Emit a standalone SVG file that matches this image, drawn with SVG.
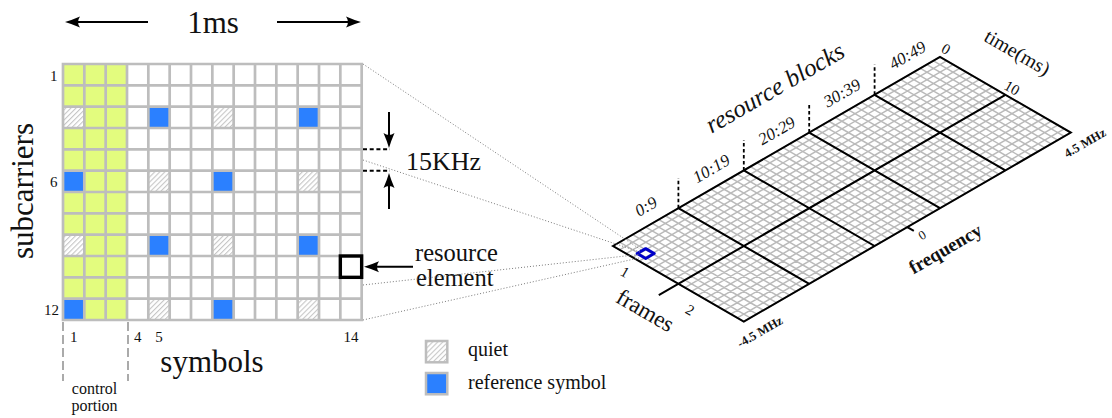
<svg xmlns="http://www.w3.org/2000/svg" width="1112" height="418" viewBox="0 0 1112 418" font-family="Liberation Serif, DejaVu Serif, serif">
  <style>
    text { font-family: "Liberation Serif", "DejaVu Serif", serif; fill: #111; }
    .it { font-style: italic; }
    .bf { font-weight: bold; }
    .mid { text-anchor: middle; }
    .end { text-anchor: end; }
    .gl { fill: none; stroke: #bdbdbd; stroke-width: 2.7; stroke-linecap: square; }
    .ctl { fill: #e3fc7e; }
    .ref { fill: #2b80ff; }
    .qt { fill: url(#hatch); }
    .fine { fill: none; stroke: #bababa; stroke-width: 1.5; vector-effect: non-scaling-stroke; }
    .bold { fill: none; stroke: #000; stroke-width: 2; vector-effect: non-scaling-stroke; }
    .dot { fill: none; stroke: #7a7a7a; stroke-width: 1; stroke-dasharray: 1 2; }
    .arr { fill: none; stroke: #000; stroke-width: 2; }
    .dash { fill: none; stroke: #000; stroke-width: 2; stroke-dasharray: 4 2.7; }
    .vdash { fill: none; stroke: #000; stroke-width: 1.8; stroke-dasharray: 3.5 2.5; }
    .cdash { fill: none; stroke: #aaa; stroke-width: 2; stroke-dasharray: 9 4; }
  </style>
  <defs>
    <pattern id="hatch" width="3.6" height="3.6" patternUnits="userSpaceOnUse" patternTransform="rotate(45)">
      <rect width="3.6" height="3.6" fill="#fff"/>
      <rect width="1.1" height="3.6" fill="#c6c6c6"/>
    </pattern>
    <!-- arrowhead, tip at origin pointing along +x -->
    <path id="ah" d="M0 0 Q-7 -2 -15 -5.5 Q-11 0 -15 5.5 Q-7 2 0 0Z" fill="#000"/>
  </defs>

  <rect width="1112" height="418" fill="#fff"/>

  <!-- one resource block: 14 symbols x 12 subcarriers -->
  <g id="resource-block-grid">
    <rect class="ctl" x="63" y="64" width="64" height="256"/>
    <g class="ref">
      <rect x="148.33" y="106.67" width="21.33" height="21.33"/>
      <rect x="297.67" y="106.67" width="21.33" height="21.33"/>
      <rect x="63" y="170.67" width="21.33" height="21.33"/>
      <rect x="212.33" y="170.67" width="21.33" height="21.33"/>
      <rect x="148.33" y="234.67" width="21.33" height="21.33"/>
      <rect x="297.67" y="234.67" width="21.33" height="21.33"/>
      <rect x="63" y="298.67" width="21.33" height="21.33"/>
      <rect x="212.33" y="298.67" width="21.33" height="21.33"/>
    </g>
    <g class="qt">
      <rect x="63" y="106.67" width="21.33" height="21.33"/>
      <rect x="212.33" y="106.67" width="21.33" height="21.33"/>
      <rect x="148.33" y="170.67" width="21.33" height="21.33"/>
      <rect x="297.67" y="170.67" width="21.33" height="21.33"/>
      <rect x="63" y="234.67" width="21.33" height="21.33"/>
      <rect x="212.33" y="234.67" width="21.33" height="21.33"/>
      <rect x="148.33" y="298.67" width="21.33" height="21.33"/>
      <rect x="297.67" y="298.67" width="21.33" height="21.33"/>
    </g>
    <path class="gl" d="M63 64V320M84.33 64V320M105.67 64V320M127 64V320M148.33 64V320M169.67 64V320M191 64V320M212.33 64V320M233.67 64V320M255 64V320M276.33 64V320M297.67 64V320M319 64V320M340.33 64V320M361.67 64V320
      M63 64H361.67M63 85.33H361.67M63 106.67H361.67M63 128H361.67M63 149.33H361.67M63 170.67H361.67M63 192H361.67M63 213.33H361.67M63 234.67H361.67M63 256H361.67M63 277.33H361.67M63 298.67H361.67M63 320H361.67"/>
    <rect id="resource-element" x="340.33" y="256" width="21.33" height="21.33" fill="none" stroke="#000" stroke-width="3.4"/>
    <text font-size="15" class="end" x="57.5" y="81">1</text>
    <text font-size="15" class="end" x="57.5" y="187">6</text>
    <text font-size="15" class="end" x="59" y="315">12</text>
    <text font-size="15" class="mid" x="73.7" y="342">1</text>
    <text font-size="15" class="mid" x="137.7" y="342">4</text>
    <text font-size="15" class="mid" x="159" y="342">5</text>
    <text font-size="15" class="mid" x="351" y="342">14</text>
  </g>

  <g id="control-portion">
    <path class="cdash" d="M63 322V381M128 322V381"/>
    <text font-size="16" class="mid" x="94.5" y="394">control</text>
    <text font-size="16" class="mid" x="94.5" y="411">portion</text>
  </g>

  <g id="axis-titles">
    <text font-size="31" class="mid" x="213" y="33">1ms</text>
    <text font-size="31" class="mid" transform="translate(33,191) rotate(-90)">subcarriers</text>
    <text font-size="31" class="mid" x="212" y="372">symbols</text>
    <text font-size="26" x="406" y="170">15KHz</text>
    <text font-size="24.5" x="415" y="261">resource</text>
    <text font-size="24.5" x="416" y="286">element</text>
  </g>

  <g id="legend">
    <rect x="426" y="341" width="21.3" height="21.3" fill="url(#hatch)" stroke="#bdbdbd" stroke-width="2.5"/>
    <rect x="426" y="373" width="21.3" height="21.3" fill="#2b80ff" stroke="#bdbdbd" stroke-width="2.5"/>
    <text font-size="20" x="468" y="356">quiet</text>
    <text font-size="20" x="468" y="388.5">reference symbol</text>
  </g>

  <!-- 50 resource blocks x 20 frames of 1 ms, drawn in cell units on the tilted plane -->
  <g id="resource-grid-3d">
    <g transform="matrix(6.54 -3.78 6.54 3.78 613 246)">
      <path class="fine" d="M0 0V20M1 0V20M2 0V20M3 0V20M4 0V20M5 0V20M6 0V20M7 0V20M8 0V20M9 0V20M10 0V20M11 0V20M12 0V20M13 0V20M14 0V20M15 0V20M16 0V20M17 0V20M18 0V20M19 0V20M20 0V20M21 0V20M22 0V20M23 0V20M24 0V20M25 0V20M26 0V20M27 0V20M28 0V20M29 0V20M30 0V20M31 0V20M32 0V20M33 0V20M34 0V20M35 0V20M36 0V20M37 0V20M38 0V20M39 0V20M40 0V20M41 0V20M42 0V20M43 0V20M44 0V20M45 0V20M46 0V20M47 0V20M48 0V20M49 0V20M50 0V20
        M0 0H50M0 1H50M0 2H50M0 3H50M0 4H50M0 5H50M0 6H50M0 7H50M0 8H50M0 9H50M0 10H50M0 11H50M0 12H50M0 13H50M0 14H50M0 15H50M0 16H50M0 17H50M0 18H50M0 19H50M0 20H50"/>
      <path class="bold" d="M0 0H50V20H0ZM10 0V20M20 0V20M30 0V20M40 0V20M-3 10H50M25 20V21"/>
      <path d="M0.85 2.85H2.15V4.15H0.85Z" fill="none" stroke="#0000c8" stroke-width="3" stroke-linejoin="round" vector-effect="non-scaling-stroke"/>
    </g>
    <path class="vdash" d="M678.4 208.2V178M743.8 170.4V140M809.2 132.6V102.5M874.6 94.8V64.5"/>
    <text font-size="17" class="it mid" y="6" transform="translate(645.7,206.1) rotate(-30)">0:9</text>
    <text font-size="17" class="it mid" y="6" transform="translate(711.1,168.3) rotate(-30)">10:19</text>
    <text font-size="17" class="it mid" y="6" transform="translate(776.5,130.5) rotate(-30)">20:29</text>
    <text font-size="17" class="it mid" y="6" transform="translate(841.9,92.7) rotate(-30)">30:39</text>
    <text font-size="17" class="it mid" y="6" transform="translate(907.3,54.9) rotate(-30)">40:49</text>
    <text font-size="25" class="it mid" y="8" transform="translate(775,88) rotate(-30)">resource blocks</text>
    <text font-size="20" class="mid" y="6" transform="translate(1017,53) rotate(30)">time(ms)</text>
    <text font-size="15" class="mid" y="5" transform="translate(946,49) rotate(30)">0</text>
    <text font-size="15" class="mid" y="5" transform="translate(1012,88) rotate(30)">10</text>
    <text font-size="12.5" class="bf mid" y="4" transform="translate(1085,143) rotate(-30)">4.5 MHz</text>
    <text font-size="12.5" class="bf mid" y="4" transform="translate(760,332) rotate(-30)">-4.5 MHz</text>
    <text font-size="13" class="mid" y="4.5" transform="translate(922,235) rotate(-30)">0</text>
    <text font-size="19" class="bf mid" y="5" transform="translate(946,250) rotate(-30)">frequency</text>
    <text font-size="23" class="mid" y="7" transform="translate(645,311) rotate(30)">frames</text>
    <text font-size="15" class="mid" y="5" transform="translate(625,272) rotate(30)">1</text>
    <text font-size="15" class="mid" y="5" transform="translate(690,310) rotate(30)">2</text>
  </g>

  <g id="connectors">
    <!-- zoom lines from the grid to its cell on the plane -->
    <path class="dot" d="M363 64L642 250.5M363 160L640 252M363 285L639 254.5M363 320L641 257.5"/>
    <!-- 1ms span -->
    <path class="arr" d="M148 22H74M277 22H352"/>
    <use href="#ah" transform="translate(65,22) rotate(180)"/>
    <use href="#ah" transform="translate(361,22)"/>
    <!-- 15KHz spacing -->
    <path class="dash" d="M363 149.33H390M363 170.67H390"/>
    <path class="arr" d="M389 112V139M389 209V182"/>
    <use href="#ah" transform="translate(389,148) rotate(90)"/>
    <use href="#ah" transform="translate(389,173) rotate(-90)"/>
    <!-- resource element pointer -->
    <path class="arr" d="M413 266.7H373"/>
    <use href="#ah" transform="translate(364,266.7) rotate(180)"/>
  </g>
</svg>
